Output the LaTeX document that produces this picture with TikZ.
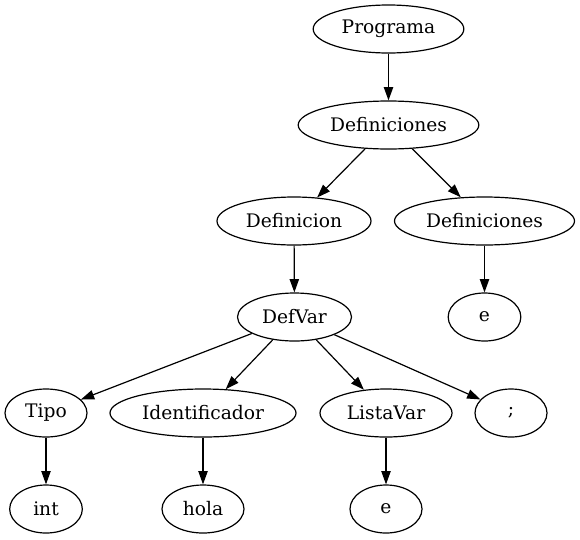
\documentclass[tikz,border=0pt]{standalone}
\usepackage{fontspec}
\setmainfont{DejaVu Serif}
\usetikzlibrary{shapes.geometric,arrows.meta}
\newcommand\lbl[1]{\makebox[0pt]{#1}}
\begin{document}
\begin{tikzpicture}[x=0.75pt,y=-0.75pt,
  el/.style={draw,ellipse,line width=0.9pt,inner sep=0pt,minimum height=36pt,font=\fontsize{14pt}{16pt}\selectfont},
  edge/.style={line width=0.9pt,-{Triangle[length=10pt,width=7pt]}}]
\useasboundingbox (0,0) rectangle (580,539);
\node[el,minimum width=113pt] (prog) at (388.5,29) {\lbl{Programa}};
\node[el,minimum width=135.5pt] (defs1) at (388.5,125) {\lbl{Definiciones}};
\node[el,minimum width=115.5pt] (def) at (294,221) {\lbl{Definicion}};
\node[el,minimum width=135pt] (defs2) at (484.5,221) {\lbl{Definiciones}};
\node[el,minimum width=54.5pt] (e1) at (484.5,317) {\lbl{e}};
\node[el,minimum width=85.5pt] (defvar) at (294.5,317) {\lbl{DefVar}};
\node[el,minimum width=61.5pt] (tipo) at (46,413) {\lbl{Tipo}};
\node[el,minimum width=139.5pt] (ident) at (203,413) {\lbl{Identificador}};
\node[el,minimum width=99pt] (lista) at (386,413) {\lbl{ListaVar}};
\node[el,minimum width=54pt] (semi) at (511,413) {\lbl{;}};
\node[el,minimum width=54.5pt] (int) at (46,509) {\lbl{int}};
\node[el,minimum width=61.5pt] (hola) at (203,509) {\lbl{hola}};
\node[el,minimum width=54pt] (e2) at (386,509) {\lbl{e}};
\draw[edge] (prog) -- (defs1);
\draw[edge] (defs1) -- (def);
\draw[edge] (defs1) -- (defs2);
\draw[edge] (def) -- (defvar);
\draw[edge] (defs2) -- (e1);
\draw[edge] (defvar) -- (tipo);
\draw[edge] (defvar) -- (ident);
\draw[edge] (defvar) -- (lista);
\draw[edge] (defvar) -- (semi);
\draw[edge] (tipo) -- (int);
\draw[edge] (ident) -- (hola);
\draw[edge] (lista) -- (e2);
\end{tikzpicture}
\end{document}
